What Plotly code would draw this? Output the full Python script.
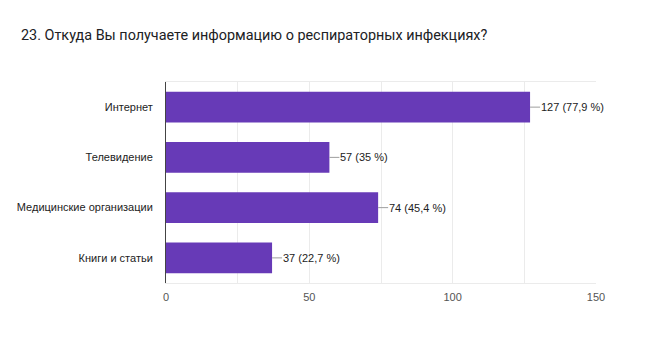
import plotly.graph_objects as go

categories = ["Интернет", "Телевидение", "Медицинские организации", "Книги и статьи"]
counts = [127, 57, 74, 37]
percents = ["77,9", "35", "45,4", "22,7"]
x_ticks = [0, 50, 100, 150]

title = "23. Откуда Вы получаете информацию о респираторных инфекциях?"
bar_color = "#673ab7"
grid_color = "#ebebeb"
label_font = "Liberation Sans, Arial, sans-serif"

fig = go.Figure()
fig.add_trace(go.Bar(
    y=categories,
    x=counts,
    orientation="h",
    marker=dict(color=bar_color, line=dict(width=0)),
    width=0.61,
    hoverinfo="skip",
))

# value labels with a short grey leader line from the end of each bar
for cat, n, p in zip(categories, counts, percents):
    fig.add_annotation(
        x=n, y=cat, xref="x", yref="y",
        text=f"{n} ({p} %)",
        showarrow=True, arrowhead=0, arrowwidth=1, arrowcolor="#9e9e9e",
        ax=10, ay=0, xanchor="left", standoff=0, startstandoff=0,
        borderpad=0,
        font=dict(family=label_font, size=11, color="#222222"),
    )

fig.update_layout(
    width=661, height=343,
    margin=dict(l=166, r=65, t=82, b=60, autoexpand=False),
    paper_bgcolor="white", plot_bgcolor="white",
    showlegend=False,
    title=dict(
        text=title, x=21 / 661, xanchor="left", y=1 - 35 / 343, yanchor="middle",
        font=dict(family="Roboto, sans-serif", size=14.4, color="#202124"),
    ),
)

fig.update_xaxes(
    range=[0, 150], tickvals=x_ticks, ticktext=[str(v) for v in x_ticks],
    showgrid=True, gridcolor=grid_color, gridwidth=1,
    minor=dict(dtick=25, tick0=0, showgrid=True, gridcolor=grid_color, gridwidth=1),
    showline=True, linecolor=grid_color, linewidth=1, mirror=True,
    zeroline=False, ticks="", ticklabelstandoff=4,
    tickfont=dict(family=label_font, size=11, color="#555555"),
    automargin=False, fixedrange=True,
)
fig.update_yaxes(
    autorange="reversed",
    showline=True, linecolor="#444444", linewidth=1,
    showgrid=False, ticks="", ticklabelstandoff=10,
    tickfont=dict(family=label_font, size=11, color="#222222"),
    automargin=False, fixedrange=True,
)

fig.write_html("out.html", config=dict(displayModeBar=False))
